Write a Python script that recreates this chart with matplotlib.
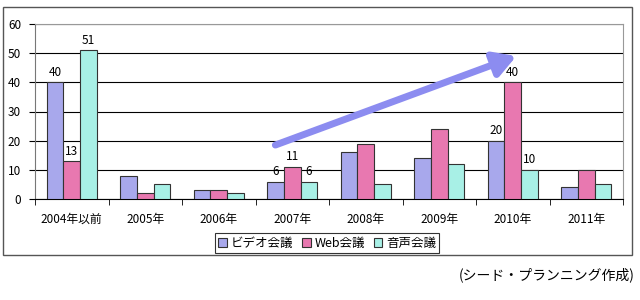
import numpy as np
import matplotlib.pyplot as plt
from matplotlib.patches import Rectangle

plt.rcParams['font.family'] = ['Noto Sans CJK JP', 'DejaVu Sans']

# data
years = ['2004年以前', '2005年', '2006年', '2007年', '2008年', '2009年', '2010年', '2011年']
video = [40, 8, 3, 6, 16, 14, 20, 4]
web = [13, 2, 3, 11, 19, 24, 40, 10]
voice = [51, 5, 2, 6, 5, 12, 10, 5]
series_names = ['ビデオ会議', 'Web会議', '音声会議']
labelled = [0, 3, 6]  # groups that carry value labels

colors = ['#A8A8EC', '#E878B0', '#A8F0E6']

fig = plt.figure(figsize=(6.4, 3.0), dpi=100)
# outer chart frame
fig.patches.append(Rectangle((3 / 640, 1 - 255 / 300), 629 / 640, 248 / 300,
                             transform=fig.transFigure, fill=False,
                             edgecolor='#555555', linewidth=1.0))

ax = fig.add_axes([35 / 640, 1 - 199 / 300, 588 / 640, 175 / 300])

x = np.arange(len(years))
w = 0.227
for k, (vals, c) in enumerate(zip([video, web, voice], colors)):
    ax.bar(x + (k - 1) * w, vals, w, color=c, edgecolor='#333333',
           linewidth=0.8, label=series_names[k], zorder=3)
    for i in labelled:
        ax.text(x[i] + (k - 1) * w, vals[i] + 1.2, str(vals[i]), ha='center',
                va='bottom', fontsize=8.5)

ax.set_xlim(-0.5, len(years) - 0.5)
ax.set_ylim(0, 60)
ax.set_yticks(range(0, 61, 10))
ax.yaxis.grid(True, color='black', linewidth=0.8, zorder=0)
ax.set_xticks(x)
ax.set_xticklabels(years, fontsize=8.5)
ax.set_xticks(np.arange(-0.5, len(years)), minor=True)
ax.tick_params(axis='x', which='major', length=0, pad=10)
ax.tick_params(axis='x', which='minor', length=4, direction='out', color='black')
ax.tick_params(axis='y', length=4, labelsize=8.5, pad=6)
for s in ['top', 'right']:
    ax.spines[s].set_color('#999999')
ax.spines['bottom'].set_color('black')
ax.spines['left'].set_color('#777777')

# trend arrow
ax.annotate('', xy=(6.05, 49.0), xytext=(2.77, 18.5),
            arrowprops=dict(arrowstyle='-|>,head_length=1.3,head_width=0.75',
                            color='#8C8CF0', lw=5, shrinkA=0, shrinkB=0),
            zorder=5)

leg = fig.legend(loc='center', bbox_to_anchor=(327 / 640, 1 - 243 / 300),
                 ncol=3, fontsize=9, frameon=True, fancybox=False,
                 handlelength=0.7, handleheight=0.7, handletextpad=0.3,
                 columnspacing=0.7, borderpad=0.25)
leg.get_frame().set_edgecolor('black')
leg.get_frame().set_linewidth(0.8)

fig.text(635 / 640, 1 - 275 / 300, '(シード・プランニング作成)', ha='right',
         va='center', fontsize=10)

fig.savefig('out.png', dpi=100)
